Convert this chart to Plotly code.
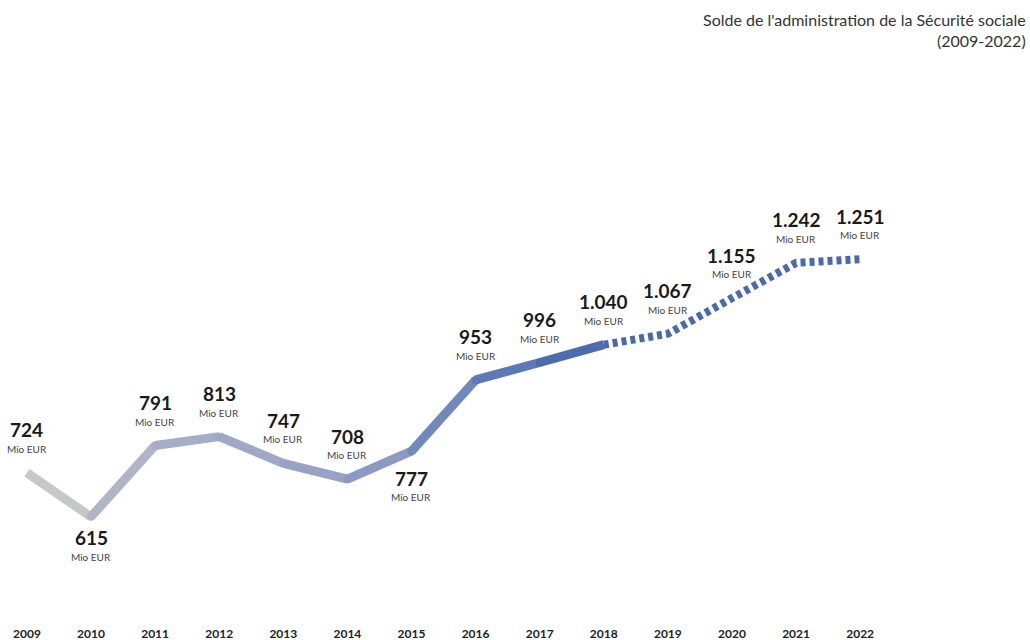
import plotly.graph_objects as go

years = [2009, 2010, 2011, 2012, 2013, 2014, 2015, 2016, 2017, 2018, 2019, 2020, 2021, 2022]
values = [724, 615, 791, 813, 747, 708, 777, 953, 996, 1040, 1067, 1155, 1242, 1251]
labels = ["724", "615", "791", "813", "747", "708", "777", "953", "996", "1.040", "1.067", "1.155", "1.242", "1.251"]
label_below = [False, True, False, False, False, False, True, False, False, False, False, False, False, False]
unit = "Mio EUR"
title_lines = ["Solde de l'administration de la Sécurité sociale", "(2009-2022)"]
last_actual_year = 2018

seg_colors = ["#c6c7ca", "#b0b5c6", "#a6adc6", "#a0a8c5", "#98a2c4", "#8c99c2",
              "#7188bb", "#5c79b5", "#4c6caf"]
dash_color = "#4a6aad"

FONT = "Source Sans Pro, Lato, Noto Sans, sans-serif"
below_shift = {2010: (-21, -40)}  # label style tweak for the lowest point

fig = go.Figure()

idx_last = years.index(last_actual_year)
for i in range(idx_last):
    fig.add_trace(go.Scatter(
        x=years[i:i + 2], y=values[i:i + 2], mode="lines",
        line=dict(color=seg_colors[i], width=9),
        hoverinfo="skip", showlegend=False))
for i in range(1, idx_last):
    fig.add_trace(go.Scatter(
        x=[years[i]], y=[values[i]], mode="markers",
        marker=dict(color=seg_colors[i], size=8, line=dict(width=0)),
        hoverinfo="skip", showlegend=False))
fig.add_trace(go.Scatter(
    x=years[idx_last:], y=values[idx_last:], mode="lines",
    line=dict(color=dash_color, width=8, dash="5px,4px"),
    hoverinfo="skip", showlegend=False))

annotations = []
for x, v, lab, below in zip(years, values, labels, label_below):
    if below:
        s1, s2 = below_shift.get(x, (-27, -46))
    else:
        s1, s2 = 43, 24
    annotations.append(dict(x=x, y=v, xref="x", yref="y", text="<b>" + lab + "</b>",
                            showarrow=False, yshift=s1, font=dict(size=19, color="#1a1a1a", family=FONT)))
    annotations.append(dict(x=x, y=v, xref="x", yref="y", text=unit,
                            showarrow=False, yshift=s2, font=dict(size=10, color="#444444", family=FONT)))

annotations.append(dict(x=1, y=1, xref="paper", yref="paper", xanchor="right", yanchor="top",
                        align="right", showarrow=False, xshift=-2, yshift=-8,
                        text="<br>".join(title_lines),
                        font=dict(size=16, color="#333333", family=FONT)))

fig.update_layout(
    width=1030, height=640,
    margin=dict(l=0, r=0, t=0, b=15),
    paper_bgcolor="white", plot_bgcolor="white",
    annotations=annotations,
    xaxis=dict(range=[2008.58, 2024.65], tickmode="array", tickvals=years,
               ticktext=["<b>%d</b>" % y for y in years],
               showgrid=False, zeroline=False, showline=False, ticks="",
               tickfont=dict(size=12, color="#222222", family=FONT)),
    yaxis=dict(range=[348, 1891], visible=False, showgrid=False, zeroline=False),
)

fig.write_html("out.html", config={"displayModeBar": False},
               post_script="document.body.style.margin='0';document.body.style.overflow='hidden';")
